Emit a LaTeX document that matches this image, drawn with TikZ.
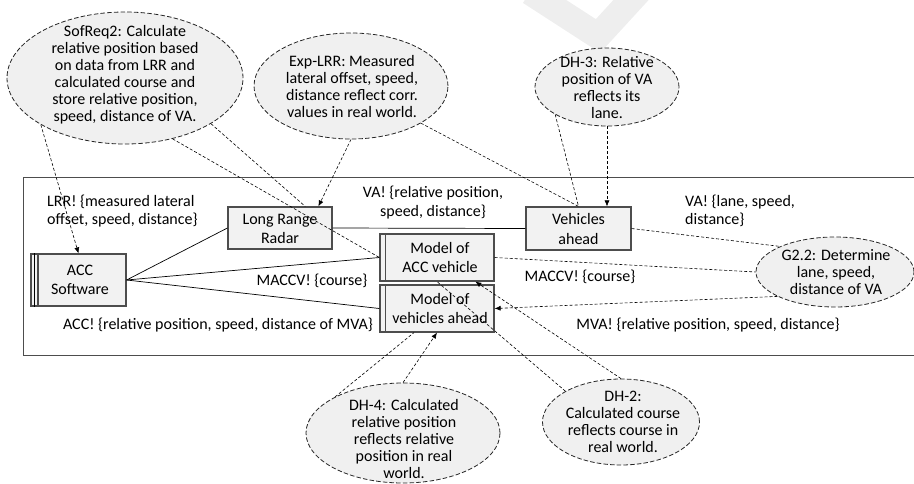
\documentclass[tikz,border=0pt]{standalone}
\usepackage{fontspec}
\setmainfont{Carlito}
\usetikzlibrary{shapes.geometric,arrows.meta,calc}

\definecolor{notefill}{HTML}{F0F0F0}
\definecolor{boxfill}{HTML}{F2F2F2}
\definecolor{boxline}{HTML}{4D4D4D}
\definecolor{markgray}{HTML}{EEEEEE}

\begin{document}
\begin{tikzpicture}[x=1pt,y=-1pt,
  font=\fontsize{16}{18.5}\selectfont,
  note/.style={ellipse, draw=black!85, dash pattern=on 4.5pt off 2.2pt,
    fill=notefill, line width=0.8pt, inner sep=0pt},
  notetext/.style={align=center, inner sep=0pt, font=\fontsize{16}{17}\selectfont},
  blk/.style={rectangle, draw=boxline, fill=boxfill, line width=1.2pt,
    inner sep=0pt},
  blktext/.style={align=center, inner sep=0pt, font=\fontsize{16}{19.5}\selectfont},
  lbl/.style={inner sep=0pt},
  link/.style={draw=black, line width=0.7pt},
  trace/.style={draw=black, dash pattern=on 3pt off 2pt, line width=0.6pt},
  arr/.style={-{Latex[length=6pt,width=5pt]}}
]
\useasboundingbox (0,0) rectangle (914,483);

% faint logo mark in the background
\draw[markgray, line width=26pt, line join=miter] (530,-8) -- (598,36) -- (642,-12);

% system frame (open to the right)
\draw[boxline, line width=1pt] (914,177) -- (23,177) -- (23,355) -- (914,355);

% goal / hypothesis notes
\node[note, minimum width=236, minimum height=132] (sof) at (125,78) {};
\node[notetext] (sof-t) at (125,74.5) {SofReq2: Calculate\\relative position based\\on data from LRR and\\calculated course and\\store relative position,\\speed, distance of VA.};

\node[note, minimum width=194, minimum height=106] (exp) at (351,86) {};
\node[notetext] (exp-t) at (352,86.5) {Exp-LRR: Measured\\lateral offset, speed,\\distance reflect corr.\\values in real world.};

\node[note, minimum width=144, minimum height=78] (dh3) at (607,87) {};
\node[notetext] (dh3-t) at (607,88) {DH-3: Relative\\position of VA\\reflects its\\lane.};

\node[note, minimum width=158, minimum height=70] (g22) at (835,272) {};
\node[notetext] (g22-t) at (836,272) {G2.2: Determine\\lane, speed,\\distance of VA};

\node[note, minimum width=194, minimum height=100] (dh4) at (403,433) {};
\node[notetext] (dh4-t) at (404,439) {DH-4: Calculated\\relative position\\reflects relative\\position in real\\world.};

\node[note, minimum width=157, minimum height=86] (dh2) at (621,422) {};
\node[notetext] (dh2-t) at (623,422) {DH-2:\\Calculated course\\reflects course in\\real world.};

% domains and machine
\node[blk, minimum width=95, minimum height=52] (acc) at (78.5,280) {};
\node[blktext] (acc-t) at (80,280) {ACC\\Software};
\draw[black, line width=0.8pt] ($(acc.north west)+(4,0)$) -- ($(acc.south west)+(4,0)$);
\draw[boxline, line width=1.2pt] ($(acc.north west)+(7.5,0)$) -- ($(acc.south west)+(7.5,0)$);

\node[blk, minimum width=104, minimum height=42] (lrr) at (280,228) {};
\node[blktext] (lrr-t) at (280,229) {Long Range\\Radar};

\node[blk, minimum width=105, minimum height=43] (va) at (578.5,228.5) {};
\node[blktext] (va-t) at (578.5,229) {Vehicles\\ahead};

\node[blk, minimum width=114, minimum height=47] (macc) at (437,257.5) {};
\node[blktext] (macc-t) at (440,257.5) {Model of\\ACC vehicle};
\draw[boxline, line width=1.2pt] ($(macc.north west)+(6,0)$) -- ($(macc.south west)+(6,0)$);

\node[blk, minimum width=114, minimum height=47] (mva) at (437,308.5) {};
\node[blktext] (mva-t) at (440,308.5) {Model of\\vehicles ahead};
\draw[boxline, line width=1.2pt] ($(mva.north west)+(6,0)$) -- ($(mva.south west)+(6,0)$);

% interfaces
\draw[link] (acc.east) -- (lrr.west);
\draw[link] (acc.east) -- (macc.west);
\draw[link] (acc.east) -- (mva.west);
\draw[link] (lrr.east) -- (va.west);

% interface labels
\node[lbl, align=left, anchor=west] (l-lrr) at (47,211) {LRR! \{measured lateral\\offset, speed, distance\}};
\node[lbl, align=center] (l-va1) at (433,202.5) {VA! \{relative position,\\speed, distance\}};
\node[lbl, align=left, anchor=west] (l-va2) at (685,211) {VA! \{lane, speed,\\distance\}};
\node[lbl] (l-m1) at (312,281) {MACCV! \{course\}};
\node[lbl] (l-m2) at (580,277) {MACCV! \{course\}};
\node[lbl] (l-acc) at (218,325) {ACC! \{relative position, speed, distance of MVA\}};
\node[lbl] (l-mva) at (708,325) {MVA! \{relative position, speed, distance\}};

% trace links
\draw[trace, arr] (sof.209) -- (acc.north);
\draw[trace] (sof.-52) -- (macc.west);
\draw[trace] (sof.-28) -- ($(lrr.north west)!0.74!(lrr.north east)$);
\draw[trace, arr] (exp.-90) -- ($(lrr.north west)!0.865!(lrr.north east)$);
\draw[trace] (exp.-28) -- (va.north);
\draw[trace] (dh3.208) -- (va.north);
\draw[trace, arr] (dh3.south) -- (dh3.south |- va.north);
\draw[trace] (va.east) -- (g22.155);
\draw[trace] (macc.east) -- (g22.west);
\draw[trace, arr] (g22.203) -- (mva.east);
\draw[trace] (dh4.152) -- ($(mva.south west)!0.3!(mva.south east)$);
\draw[trace, arr] (dh4.north) -- (mva.south);
\draw[trace, arr] (dh2.north) -- ($(macc.south west)!0.833!(macc.south east)$);
\draw[trace] (dh2.151) -- (macc.south);
\end{tikzpicture}
\end{document}
